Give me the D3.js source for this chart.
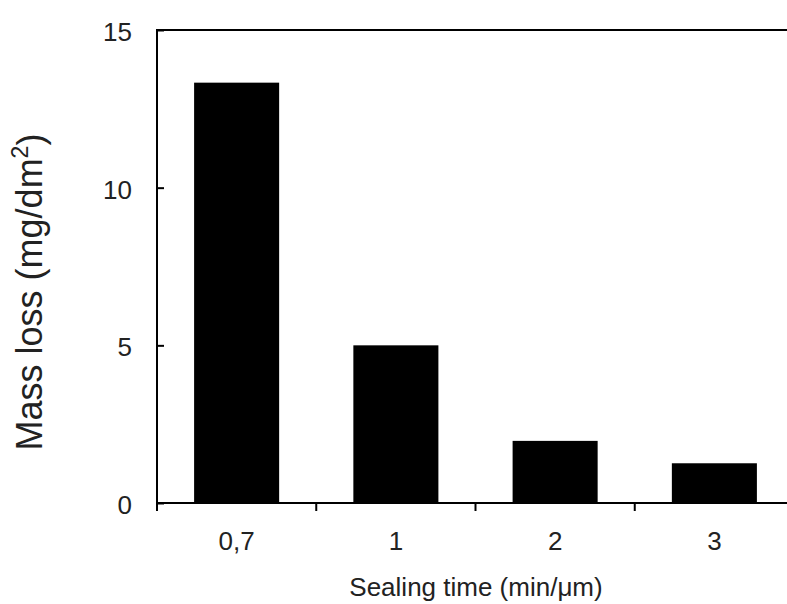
<!DOCTYPE html>
<html>
<head>
<meta charset="utf-8">
<script src="https://cdn.jsdelivr.net/npm/d3@7"></script>
<style>
  html, body { margin: 0; padding: 0; background: #fff; }
  svg { display: block; }
  text { font-family: "Liberation Sans", Arial, sans-serif; fill: #222; }
</style>
</head>
<body>
<svg id="chart" width="787" height="604"></svg>
<script>
const categories = ["0,7", "1", "2", "3"];
const massLoss = [13.33, 5.0, 1.97, 1.26];
const yTicks = [0, 5, 10, 15];
const xTitle = "Sealing time (min/μm)";
const yTitleMain = "Mass loss (mg/dm";
const yTitleSup = "2";
const yTitleEnd = ")";

const svg = d3.select("#chart");
const mLeft = 157, mRight = 794, mTop = 30, mBottom = 503, axisEnd = 787;

const x = d3.scaleBand().domain(categories).range([mLeft, mRight])
  .paddingInner(0.466).paddingOuter(0.233);
const y = d3.scaleLinear().domain([0, 15]).range([mBottom, mTop]);

// bars
svg.append("g").selectAll("rect").data(categories).join("rect")
  .attr("x", d => x(d))
  .attr("width", x.bandwidth())
  .attr("y", (d, i) => y(massLoss[i]))
  .attr("height", (d, i) => y(0) - y(massLoss[i]))
  .attr("fill", "#000");

// y axis
const yAxis = svg.append("g").attr("transform", `translate(${mLeft},0)`)
  .call(d3.axisLeft(y).tickValues(yTicks).tickSize(-7).tickPadding(25));
yAxis.select(".domain").remove();
yAxis.selectAll(".tick line").attr("stroke", "#000").attr("stroke-width", 2);
yAxis.selectAll(".tick text").attr("font-size", 26).attr("dy", "0.4em")
  .style("font-family", "'Liberation Sans', Arial, sans-serif").attr("fill", "#222");

// x axis labels at band centers
const xAxis = svg.append("g").attr("transform", `translate(0,${mBottom})`)
  .call(d3.axisBottom(x).tickSize(0).tickPadding(29));
xAxis.select(".domain").remove();
xAxis.selectAll(".tick text").attr("font-size", 26)
  .style("font-family", "'Liberation Sans', Arial, sans-serif").attr("fill", "#222");

// x boundary ticks
const step = x.step();
const bounds = categories.map((d, i) => x(d) - x.paddingInner() * step / 2);
svg.append("g").selectAll("line").data(bounds).join("line")
  .attr("x1", d => d).attr("x2", d => d)
  .attr("y1", mBottom).attr("y2", mBottom + 8)
  .attr("stroke", "#000").attr("stroke-width", 2);

// frame lines
svg.append("line").attr("x1", mLeft).attr("x2", mLeft).attr("y1", mTop - 1).attr("y2", mBottom + 1)
  .attr("stroke", "#000").attr("stroke-width", 2);
svg.append("line").attr("x1", mLeft - 1).attr("x2", axisEnd).attr("y1", mBottom).attr("y2", mBottom)
  .attr("stroke", "#000").attr("stroke-width", 2);
svg.append("line").attr("x1", mLeft - 1).attr("x2", axisEnd).attr("y1", mTop).attr("y2", mTop)
  .attr("stroke", "#000").attr("stroke-width", 2);

// titles
svg.append("text").attr("x", 476).attr("y", 596).attr("text-anchor", "middle")
  .attr("font-size", 26).text(xTitle);

const yt = svg.append("text").attr("transform", "translate(42,292) rotate(-90)")
  .attr("text-anchor", "middle").attr("font-size", 36);
yt.append("tspan").text(yTitleMain);
yt.append("tspan").attr("font-size", 23).attr("dy", "-0.6em").text(yTitleSup);
yt.append("tspan").attr("dy", "0.42em").text(yTitleEnd);
</script>
</body>
</html>
